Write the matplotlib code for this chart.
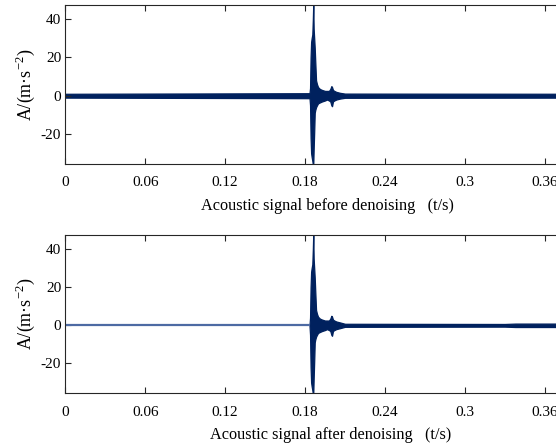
import matplotlib
matplotlib.use("Agg")
import matplotlib.pyplot as plt

plt.rcParams['font.family'] = ['Liberation Serif', 'DejaVu Serif']
plt.rcParams['mathtext.fontset'] = 'custom'
plt.rcParams['mathtext.rm'] = 'Liberation Serif'
plt.rcParams['axes.unicode_minus'] = False

# ---- data (envelopes of the acoustic signal) ----
x_ticks = [0, 0.06, 0.12, 0.18, 0.24, 0.3, 0.36]
x_tick_labels = ['0', '0.06', '0.12', '0.18', '0.24', '0.3', '0.36']
y_ticks = [-20, 0, 20, 40]

before_t = [0.0, 0.1834, 0.1838, 0.1842, 0.1846, 0.1850, 0.1855, 0.1859, 0.1862, 0.1865,
            0.1869, 0.1873, 0.1877, 0.1883, 0.1890, 0.1898, 0.1912, 0.1928, 0.1950,
            0.1965, 0.1980, 0.1990, 0.1998, 0.2003, 0.2010, 0.2020, 0.2035, 0.2063,
            0.2100, 0.4]
before_upper = [1.0, 1.3, 4.0, 20.0, 28.0, 30.0, 32.0, 40.0, 48.0, 35.0,
                30.0, 25.0, 18.0, 8.0, 6.0, 4.5, 3.5, 3.0, 2.5,
                2.5, 2.5, 3.5, 5.0, 4.5, 3.0, 2.5, 2.0, 1.5,
                1.1, 1.0]
before_lower = [-1.0, -1.3, -5.0, -22.0, -30.0, -32.0, -34.0, -36.0, -36.0, -28.0,
                -19.0, -9.0, -7.5, -6.0, -5.0, -4.0, -3.5, -3.0, -2.5,
                -2.0, -2.5, -3.0, -5.0, -5.5, -3.0, -2.5, -2.0, -1.5,
                -1.1, -1.0]

after_quiet_t = [0.0, 0.1834]
after_quiet_v = [0.0, 0.0]
after_t = [0.1834, 0.1838, 0.1842, 0.1846, 0.1850, 0.1855, 0.1859, 0.1862, 0.1865,
           0.1869, 0.1873, 0.1877, 0.1883, 0.1890, 0.1898, 0.1912, 0.1928, 0.1950,
           0.1965, 0.1980, 0.1990, 0.1998, 0.2003, 0.2010, 0.2020, 0.2035, 0.2063,
           0.2100, 0.3300, 0.3380, 0.3700, 0.4]
after_upper = [0.3, 4.0, 20.0, 28.0, 30.0, 32.0, 40.0, 48.0, 35.0,
               30.0, 25.0, 18.0, 8.0, 6.0, 4.5, 3.5, 3.0, 2.5,
               2.5, 2.5, 3.5, 5.0, 4.5, 3.0, 2.5, 2.0, 1.5,
               0.8, 0.7, 0.9, 0.9, 0.9]
after_lower = [-0.3, -5.0, -22.0, -30.0, -32.0, -34.0, -36.0, -36.0, -28.0,
               -19.0, -9.0, -7.5, -6.0, -5.0, -4.0, -3.5, -3.0, -2.5,
               -2.0, -2.5, -3.0, -5.0, -5.5, -3.0, -2.5, -2.0, -1.5,
               -0.8, -0.7, -0.9, -0.9, -0.9]

xlabel_top = 'Acoustic signal before denoising   (t/s)'
xlabel_bot = 'Acoustic signal after denoising   (t/s)'
ylabel = 'A/(m·s$^{\\mathregular{-2}}$)'

W, H = 556, 446
fig = plt.figure(figsize=(W / 100, H / 100), dpi=100)

left = 65.3 / W
width = (0.4 / 0.06 * 79.9) / W
ax1 = fig.add_axes([left, 1 - 163.7 / H, width, 158.4 / H])
ax2 = fig.add_axes([left, 1 - 393.0 / H, width, 157.7 / H])

dark = '#00215e'
light = '#4d6aa3'

ax1.fill_between(before_t, before_lower, before_upper, color=dark, lw=0.9, edgecolor=dark)
ax2.plot(after_quiet_t, after_quiet_v, color=light, lw=1.6, solid_capstyle='butt')
ax2.fill_between(after_t, after_lower, after_upper, color=dark, lw=0.9, edgecolor=dark)

for ax, lab in ((ax1, xlabel_top), (ax2, xlabel_bot)):
    ax.set_xlim(0, 0.4)
    ax.set_ylim(-35.5, 47.2)
    ax.set_xticks(x_ticks)
    ax.set_xticklabels(x_tick_labels)
    ax.set_yticks(y_ticks)
    ax.tick_params(direction='in', length=4, width=0.8, color='#262626',
                   labelsize=11, top=True, right=True)
    ax.tick_params(axis='x', pad=9)
    ax.tick_params(axis='y', pad=3)
    for s in ax.spines.values():
        s.set_color('#262626')
        s.set_linewidth(0.8)
    ax.set_xlabel(lab, fontsize=11.7)
    ax.set_ylabel(ylabel, fontsize=13)

ax1.xaxis.set_label_coords(0.492, -0.215)
ax2.xaxis.set_label_coords(0.498, -0.215)
ylx = -(65.3 - 25) / (width * W)
ax1.yaxis.set_label_coords(ylx, 0.5)
ax2.yaxis.set_label_coords(ylx, 0.5)
for ax in (ax1, ax2):
    ax.yaxis.label.set_verticalalignment('center')

fig.savefig('out.png', dpi=100)
